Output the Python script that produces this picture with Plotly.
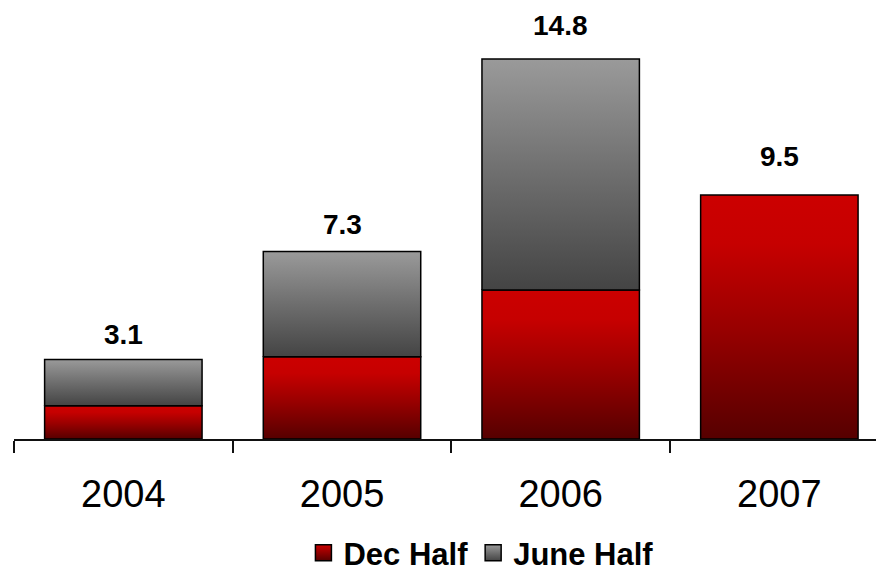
import plotly.graph_objects as go

# Half-year results per fiscal year
years = ["2004", "2005", "2006", "2007"]
dec_half = [1.3, 3.2, 5.8, 9.5]
june_half = [1.8, 4.1, 9.0, 0.0]

# Pixel lift of each total label above its bar
label_lift = [7, 10, 16, 21]

RED_SCALE = [[0.0, "#560000"], [0.45, "#980000"], [0.8, "#c60000"], [1.0, "#cc0000"]]
GRAY_SCALE = [[0.0, "#444444"], [0.5, "#6e6e6e"], [1.0, "#9a9a9a"]]

series = [
    ("Dec Half", dec_half, RED_SCALE, "#cc0000", "#560000"),
    ("June Half", june_half, GRAY_SCALE, "#9a9a9a", "#444444"),
]

FONT = "Liberation Sans, Arial, sans-serif"
HALF_W = 0.36

fig = go.Figure()
base = [0.0] * len(years)
for name, vals, scale, top_col, bot_col in series:
    for i, v in enumerate(vals):
        if v <= 0:
            continue
        y0, y1 = base[i], base[i] + v
        x0, x1 = i - HALF_W, i + HALF_W
        fig.add_trace(go.Scatter(
            x=[x0, x1, x1, x0, x0], y=[y0, y0, y1, y1, y0],
            mode="lines", fill="toself",
            fillgradient=dict(type="vertical", colorscale=scale),
            line=dict(color="black", width=1.5),
            showlegend=False, hoverinfo="skip",
        ))
    base = [b + v for b, v in zip(base, vals)]
    # legend swatch
    fig.add_trace(go.Scatter(
        x=[None], y=[None], mode="markers", name=name,
        marker=dict(symbol="square", size=18, color=top_col,
                    gradient=dict(type="vertical", color=bot_col),
                    line=dict(color="black", width=1.5)),
    ))

totals = [round(d + j, 1) for d, j in zip(dec_half, june_half)]
for i, t in enumerate(totals):
    fig.add_annotation(
        x=i, y=t, text=f"{t:.1f}", showarrow=False,
        xanchor="center", yanchor="bottom", yshift=label_lift[i],
        font=dict(family=FONT, size=28, color="black", weight="bold"),
    )

fig.update_layout(
    width=876, height=572,
    margin=dict(l=14, r=0, t=0, b=133),
    plot_bgcolor="white", paper_bgcolor="white",
    showlegend=True,
    legend=dict(orientation="h", xref="container", x=0.549, xanchor="center",
                yref="container", y=0.033, yanchor="middle",
                font=dict(family=FONT, size=31, color="black", weight="bold"),
                itemclick=False),
    xaxis=dict(
        range=[-0.5, 3.442], tickmode="array",
        tickvals=list(range(len(years))), ticktext=years,
        ticks="", showgrid=False, zeroline=False,
        showline=True, linecolor="#111111", linewidth=1.5,
        tickfont=dict(family=FONT, size=38, color="black"),
        ticklabelstandoff=21,
        minor=dict(tickmode="linear", tick0=-0.5, dtick=1, ticks="outside",
                   ticklen=12, tickwidth=1.5, tickcolor="#111111", showgrid=False),
    ),
    yaxis=dict(range=[0, 17.1], visible=False),
)

fig.write_html("out.html")
